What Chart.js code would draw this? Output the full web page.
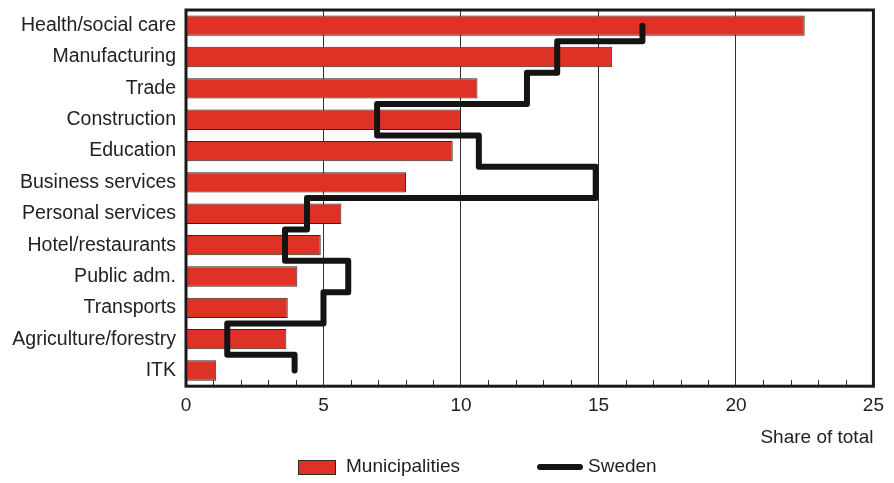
<!DOCTYPE html>
<html>
<head>
<meta charset="utf-8">
<script src="https://cdn.jsdelivr.net/npm/chart.js@4/dist/chart.umd.min.js"></script>
<style>
  html, body { margin: 0; padding: 0; background: #ffffff; }
  #wrap { width: 894px; height: 483px; }
</style>
</head>
<body>
<div id="wrap"><canvas id="chart" width="894" height="483"></canvas></div>
<script>
// Employment by sector, share of total (%)
const sectors = [
  'Health/social care', 'Manufacturing', 'Trade', 'Construction', 'Education',
  'Business services', 'Personal services', 'Hotel/restaurants', 'Public adm.',
  'Transports', 'Agriculture/forestry', 'ITK'
];
const municipalities = [22.5, 15.5, 10.6, 10.0, 9.7, 8.0, 5.65, 4.9, 4.05, 3.7, 3.65, 1.1];
const sweden = [16.6, 13.5, 12.4, 6.95, 10.65, 14.9, 4.4, 3.6, 5.9, 5.0, 1.5, 3.95];
const xTickLabels = [0, 5, 10, 15, 20, 25];

const FONT = '"Liberation Sans", Arial, sans-serif';
const TEXT = '#222222';

// Sweden is drawn as a step outline: one vertical run per sector band,
// joined by horizontal runs on the band boundaries.
const lastIdx = sectors.length - 1;
const swedenSteps = [];
sweden.forEach((v, i) => {
  swedenSteps.push({ x: v, y: i === 0 ? 0 : i - 0.5 });
  swedenSteps.push({ x: v, y: i === lastIdx ? lastIdx : i + 0.5 });
});

// Heavy frame around the plot area
const plotFrame = {
  id: 'plotFrame',
  afterDatasetsDraw(chart) {
    const { ctx, chartArea: a } = chart;
    ctx.save();
    ctx.strokeStyle = '#1a1a1a';
    ctx.lineWidth = 3;
    ctx.strokeRect(a.left, a.top, a.right - a.left, a.bottom - a.top);
    ctx.restore();
  }
};

// Small inward tick marks on the value axis at every unit
const minorTicks = {
  id: 'minorTicks',
  afterDatasetsDraw(chart) {
    const { ctx, chartArea: a, scales: { x } } = chart;
    ctx.save();
    ctx.strokeStyle = '#222222';
    ctx.lineWidth = 1;
    for (let v = Math.ceil(x.min); v <= x.max; v++) {
      if (v % 5 === 0) continue;
      const px = Math.round(x.getPixelForValue(v)) + 0.5;
      ctx.beginPath();
      ctx.moveTo(px, a.bottom);
      ctx.lineTo(px, a.bottom - 6);
      ctx.stroke();
    }
    ctx.restore();
  }
};

// Legend row under the axis title
const legendRow = {
  id: 'legendRow',
  afterDraw(chart) {
    const { ctx } = chart;
    const bars = chart.data.datasets.find(d => d.type === 'bar');
    const line = chart.data.datasets.find(d => d.type === 'line');
    const y = 467;
    ctx.save();
    ctx.fillStyle = bars.backgroundColor;
    ctx.fillRect(298, y - 7, 38, 15);
    ctx.strokeStyle = bars.borderColor;
    ctx.lineWidth = 1;
    ctx.strokeRect(298.5, y - 6.5, 37, 14);
    ctx.strokeStyle = line.borderColor;
    ctx.lineWidth = 6;
    ctx.lineCap = 'round';
    ctx.beginPath();
    ctx.moveTo(540, y);
    ctx.lineTo(580, y);
    ctx.stroke();
    ctx.fillStyle = TEXT;
    ctx.font = '19px ' + FONT;
    ctx.textBaseline = 'middle';
    ctx.textAlign = 'left';
    ctx.fillText(bars.label, 346, y);
    ctx.fillText(line.label, 588, y);
    ctx.restore();
  }
};

new Chart(document.getElementById('chart'), {
  data: {
    labels: sectors,
    datasets: [
      {
        type: 'bar',
        label: 'Municipalities',
        data: municipalities,
        xAxisID: 'x',
        yAxisID: 'y',
        backgroundColor: '#de3226',
        borderColor: '#2b2b2b',
        borderWidth: 1,
        borderSkipped: false,
        grouped: false,
        barPercentage: 0.65,
        categoryPercentage: 1,
        order: 2
      },
      {
        type: 'line',
        label: 'Sweden',
        data: swedenSteps,
        xAxisID: 'x',
        yAxisID: 'yStep',
        borderColor: '#141414',
        borderWidth: 6,
        borderCapStyle: 'round',
        borderJoinStyle: 'round',
        stepped: true,
        pointRadius: 0,
        fill: false,
        order: 1
      }
    ]
  },
  options: {
    indexAxis: 'y',
    responsive: false,
    animation: false,
    events: [],
    layout: { padding: { top: 10, right: 18, bottom: 34, left: 0 } },
    plugins: {
      legend: { display: false },
      tooltip: { enabled: false }
    },
    scales: {
      x: {
        type: 'linear',
        position: 'bottom',
        min: 0,
        max: 25,
        border: { display: false },
        grid: {
          drawTicks: false,
          lineWidth: 1,
          color: c => (c.tick && c.tick.value % 5 === 0 && c.tick.value > 0 && c.tick.value < 25)
            ? '#333333' : 'rgba(0,0,0,0)'
        },
        ticks: {
          stepSize: 1,
          autoSkip: false,
          maxRotation: 0,
          padding: 10,
          color: TEXT,
          font: { family: FONT, size: 19, lineHeight: 1 },
          callback: v => (xTickLabels.includes(v) ? String(v) : '')
        },
        title: {
          display: true,
          text: 'Share of total',
          align: 'end',
          color: TEXT,
          font: { family: FONT, size: 19 },
          padding: { top: 1, bottom: 0 }
        }
      },
      y: {
        type: 'category',
        position: 'left',
        offset: true,
        border: { display: false },
        grid: { display: false, drawTicks: false },
        ticks: {
          autoSkip: false,
          padding: 10,
          color: TEXT,
          font: { family: FONT, size: 19.5 }
        },
        afterFit: s => {
          s.width = 186;
          s.paddingTop = 0;
          s.paddingBottom = 0;
        }
      },
      yStep: {
        type: 'linear',
        display: false,
        reverse: true,
        min: -0.5,
        max: lastIdx + 0.5
      }
    }
  },
  plugins: [plotFrame, minorTicks, legendRow]
});
</script>
</body>
</html>
